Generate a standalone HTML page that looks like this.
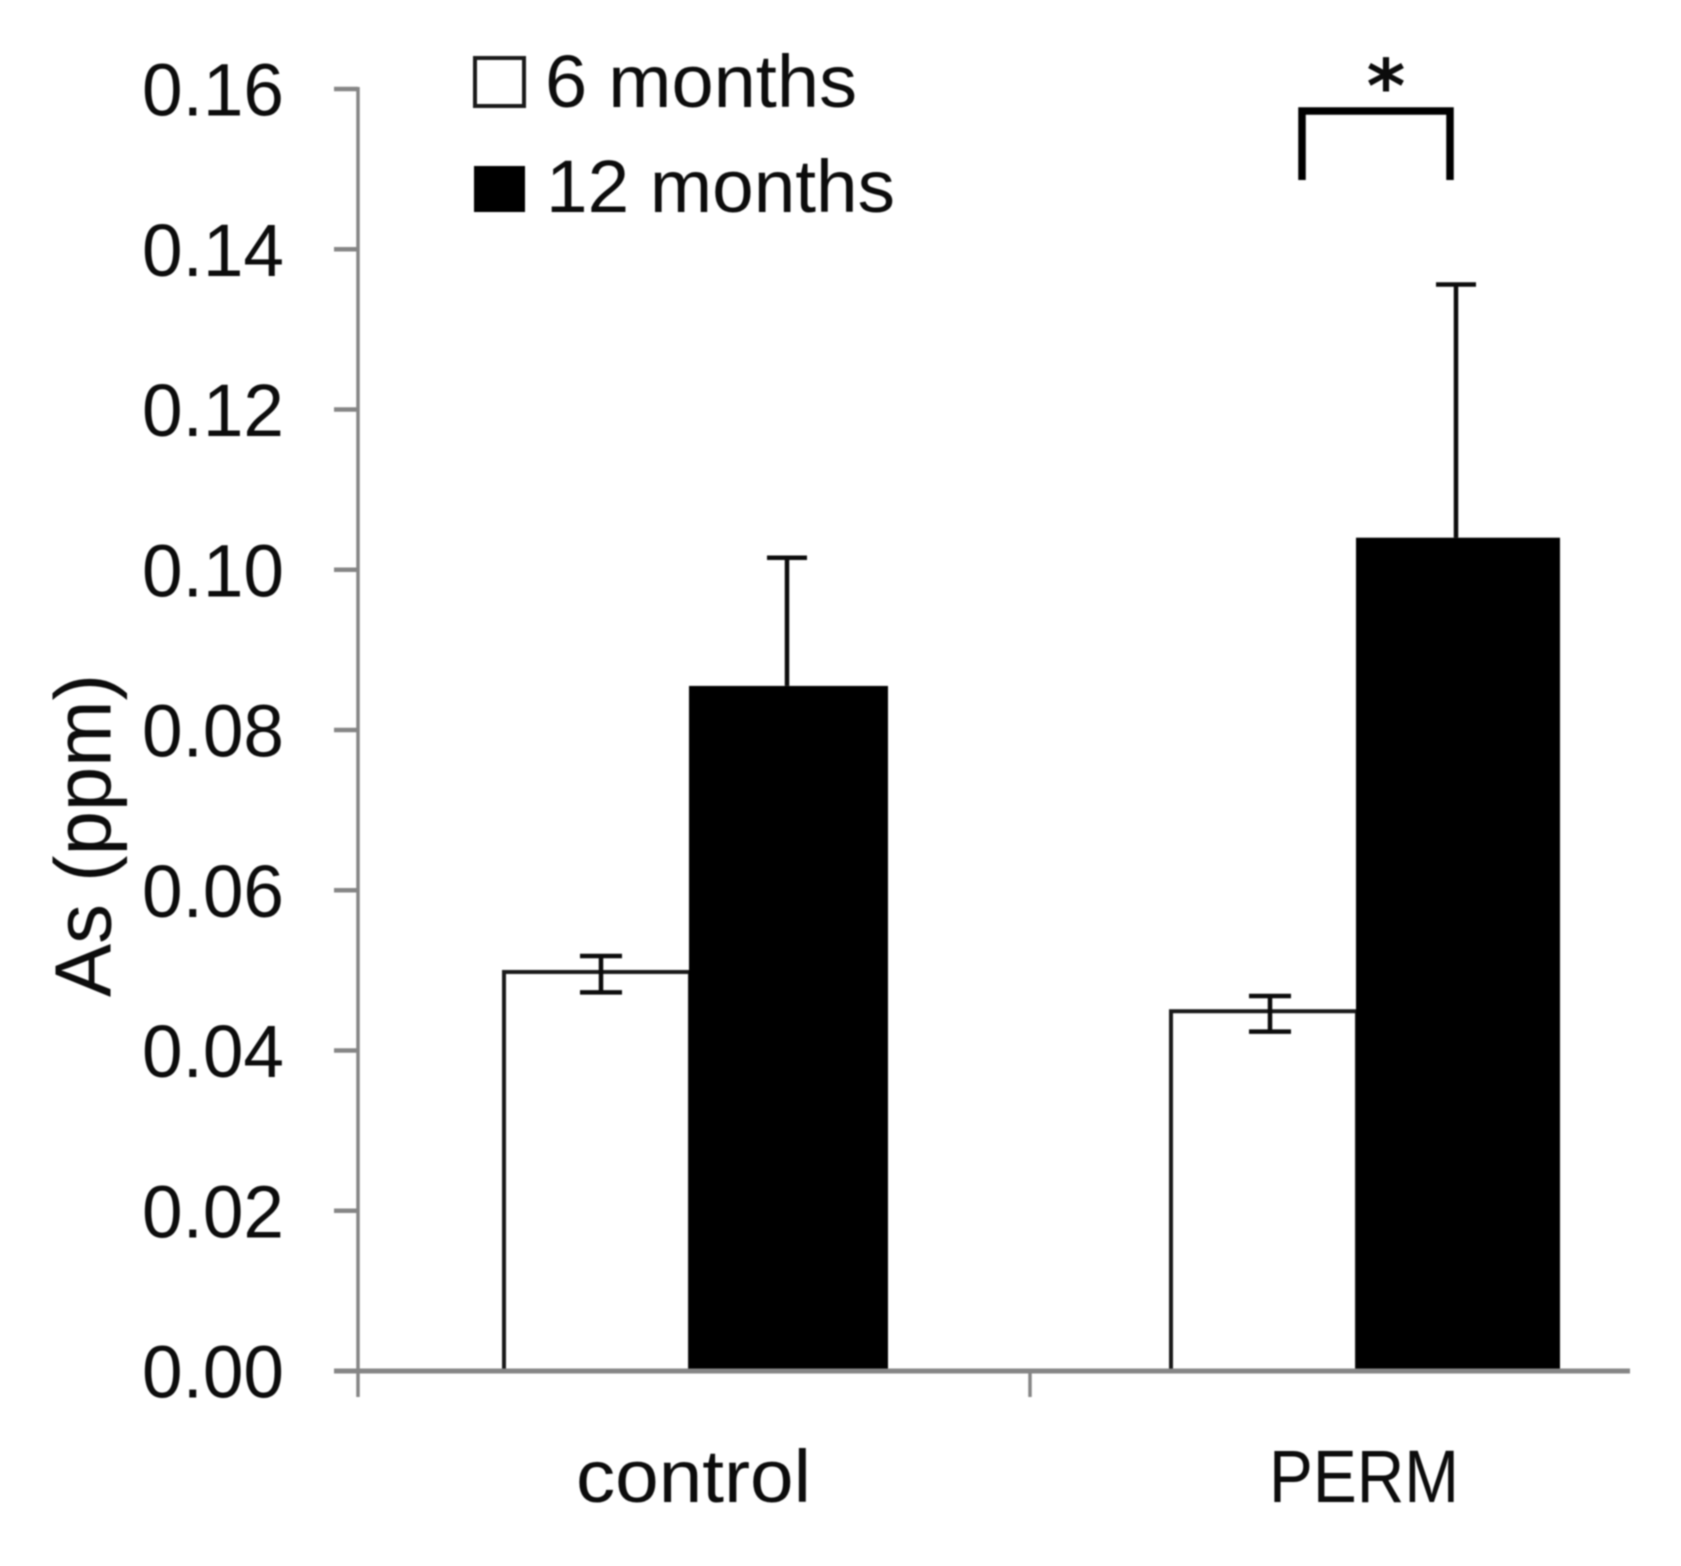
<!DOCTYPE html>
<html lang="en">
<head>
<meta charset="utf-8">
<title>As (ppm) bar chart</title>
<style>
html,body{margin:0;padding:0;background:#fff;width:1681px;height:1566px;overflow:hidden}
svg{display:block;font-family:"Liberation Sans",sans-serif;filter:blur(0.8px)}
text{fill:#0c0c0c}
</style>
</head>
<body>
<svg id="chart" xmlns="http://www.w3.org/2000/svg" width="1681" height="1566" viewBox="0 0 1681 1566">
  <rect x="0" y="0" width="1681" height="1566" fill="#fff"/>
  <g id="bars"></g>
  <g id="errors"></g>
  <g id="axes"></g>
  <text transform="translate(110.7 997) rotate(-90)" font-size="80" textLength="323" lengthAdjust="spacingAndGlyphs">As (ppm)</text>
  <g>
    <g>
      <rect x="475" y="58" width="49" height="48" fill="#fff" stroke="#1a1a1a" stroke-width="4"/>
      <text x="545" y="107" font-size="74" textLength="312" lengthAdjust="spacingAndGlyphs">6 months</text>
    </g>
    <g>
      <rect x="474" y="166" width="51" height="46" fill="#000"/>
      <text x="546" y="212" font-size="74" textLength="349" lengthAdjust="spacingAndGlyphs">12 months</text>
    </g>
  </g>
  <path d="M1302 180V111H1450V180" fill="none" stroke="#000" stroke-width="7.5"/>
  <text x="1386" y="112" font-size="74" font-weight="bold" text-anchor="middle" font-family="DejaVu Sans, sans-serif">*</text>
</svg>
<script>
const categories = ["control", "PERM"];
const sixMonths = [0.0498, 0.0449];
const twelveMonths = [0.0855, 0.1040];
const sixMonthsErrorUp = [0.0020, 0.0019];
const sixMonthsErrorDown = [0.00255, 0.00255];
const twelveMonthsError = [0.0160, 0.0316];
const yTickValues = [0, 0.02, 0.04, 0.06, 0.08, 0.10, 0.12, 0.14, 0.16];
const yTickLabels = ["0.00", "0.02", "0.04", "0.06", "0.08", "0.10", "0.12", "0.14", "0.16"];

const SVG_NS = "http://www.w3.org/2000/svg";
const yScale = function (v) { return 1371 - v * 8012.5; };
const bandStart = function (i) { return 358 + 667 * i; };

function make(tag, parent) {
  const el = document.createElementNS(SVG_NS, tag);
  parent.appendChild(el);
  return el;
}
function setAll(el, props) {
  Object.keys(props).forEach(function (k) { el.setAttribute(k, props[k]); });
  return el;
}

const barsLayer = document.getElementById("bars");
const errorsLayer = document.getElementById("errors");
const axesLayer = document.getElementById("axes");

categories.forEach(function (cat, i) {
  const b = bandStart(i);

  const y6 = yScale(sixMonths[i]);
  const bar6 = make("rect", barsLayer);
  
  
  setAll(bar6, { x: b + 146, y: y6, width: 186, height: 1371 - y6, fill: "#fff", stroke: "#1a1a1a", "stroke-width": 4 });

  const y12 = yScale(twelveMonths[i]);
  const bar12 = make("rect", barsLayer);
  
  
  setAll(bar12, { x: b + 331, y: y12, width: i === 0 ? 199 : 204, height: 1371 - y12, fill: "#000" });

  const cx6 = b + 243 + 2 * i;
  const hi6 = yScale(sixMonths[i] + sixMonthsErrorUp[i]);
  const lo6 = yScale(sixMonths[i] - sixMonthsErrorDown[i]);
  const err6 = make("path", errorsLayer);
  
  
  setAll(err6, {
    d: "M" + cx6 + " " + hi6 + "V" + lo6 + "M" + (cx6 - 21) + " " + hi6 + "H" + (cx6 + 21) + "M" + (cx6 - 21) + " " + lo6 + "H" + (cx6 + 21),
    fill: "none", stroke: "#0c0c0c", "stroke-width": 4.5
  });

  const cx12 = b + 429 + 2 * i;
  const hi12 = yScale(twelveMonths[i] + twelveMonthsError[i]);
  const err12 = make("path", errorsLayer);
  
  
  setAll(err12, {
    d: "M" + cx12 + " " + y12 + "V" + hi12 + "M" + (cx12 - 20) + " " + hi12 + "H" + (cx12 + 20),
    fill: "none", stroke: "#0c0c0c", "stroke-width": 4.5
  });

  const label = make("text", axesLayer);
  
  
  setAll(label, { x: i === 0 ? 576 : 1269, y: 1502, "font-size": 74, textLength: i === 0 ? 235 : 190, lengthAdjust: "spacingAndGlyphs" });
  label.textContent = cat;
});

const yAxisLine = make("line", axesLayer);


setAll(yAxisLine, { x1: 358, x2: 358, y1: yScale(0.16) - 2, y2: 1397, stroke: "#868686", "stroke-width": 3.5 });

const xAxisLine = make("line", axesLayer);


setAll(xAxisLine, { x1: 334, x2: 1630, y1: 1371, y2: 1371, stroke: "#868686", "stroke-width": 5 });

const xTick = make("line", axesLayer);


setAll(xTick, { x1: bandStart(1) + 5, x2: bandStart(1) + 5, y1: 1371, y2: 1397, stroke: "#868686", "stroke-width": 3.5 });

yTickValues.forEach(function (v, i) {
  const y = yScale(v);
  const tick = make("line", axesLayer);
  
  
  setAll(tick, { x1: 334, x2: 358, y1: y, y2: y, stroke: "#868686", "stroke-width": 4.5 });

  const label = make("text", axesLayer);
  
  
  setAll(label, { x: 142, y: y + 26.5, "font-size": 74, textLength: 142, lengthAdjust: "spacingAndGlyphs" });
  label.textContent = yTickLabels[i];
});
</script>
</body>
</html>
